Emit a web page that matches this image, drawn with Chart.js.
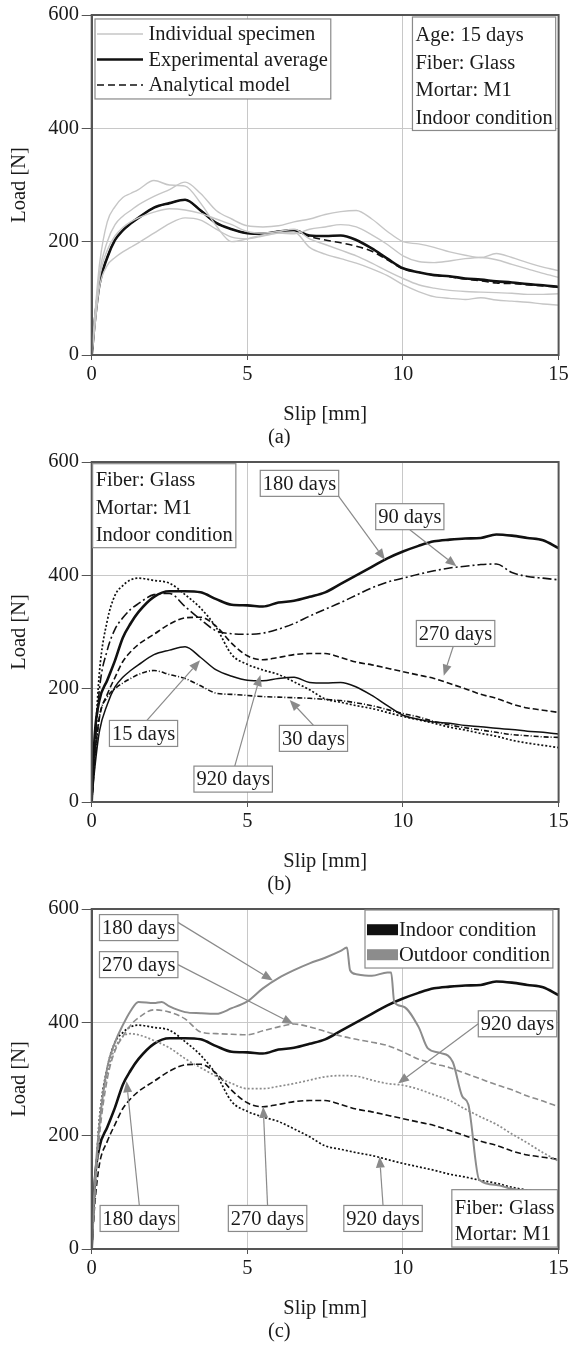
<!DOCTYPE html>
<html>
<head>
<meta charset="utf-8">
<script src="https://cdn.jsdelivr.net/npm/chart.js@4"></script>
<style>
  body { margin: 0; background: #fff; width: 572px; height: 1348px; position: relative; overflow: hidden; }
  canvas { position: absolute; left: 0; }
</style>
</head>
<body>
<canvas id="panelA" width="572" height="452" style="top:0px"></canvas>
<canvas id="panelB" width="572" height="452" style="top:447px"></canvas>
<canvas id="panelC" width="572" height="452" style="top:894px"></canvas>
<script>
// slip values (mm) shared by most curves
const slip = [0, 0.1, 0.25, 0.5, 0.75, 1, 1.25, 1.5, 2, 2.5, 3, 3.5, 4, 4.5, 5, 5.5, 6, 6.5, 7, 7.5,
              8, 8.5, 9, 9.5, 10, 10.5, 11, 11.5, 12, 12.5, 13, 13.5, 14, 14.5, 15];

// (a) 15 days, individual specimens + average + model
const specimenA = [0, 70, 160, 235, 262, 278, 285, 292, 308, 300, 298, 268, 228, 200, 205, 212, 215, 214, 222, 226,
                   230, 226, 212, 195, 175, 165, 163, 166, 170, 172, 168, 160, 152, 144, 137];
const specimenB = [0, 65, 145, 200, 230, 245, 255, 265, 280, 292, 305, 285, 255, 240, 228, 226, 228, 235, 240, 248,
                   253, 255, 240, 218, 200, 196, 190, 182, 176, 172, 179, 172, 163, 155, 149];
const specimenC = [0, 55, 135, 185, 210, 225, 235, 242, 252, 258, 256, 250, 240, 230, 218, 215, 218, 222, 205, 195,
                   185, 175, 162, 148, 135, 124, 118, 114, 112, 111, 110, 109, 107, 107, 108];
const specimenD = [0, 50, 120, 158, 172, 182, 190, 198, 215, 232, 242, 238, 222, 208, 205, 210, 215, 217, 190, 178,
                   170, 162, 152, 140, 124, 112, 103, 100, 98, 101, 97, 95, 93, 90, 88];
const avg15 = [0, 60, 125, 172, 203, 220, 232, 242, 260, 268, 274, 255, 233, 222, 215, 214, 218, 220, 211, 210,
               211, 203, 188, 170, 153, 146, 141, 139, 135, 133, 130, 128, 125, 123, 120];
const model15 = [0, 60, 125, 172, 203, 220, 232, 242, 260, 268, 274, 255, 233, 222, 215, 214, 218, 220, 209, 203,
                 198, 192, 183, 168, 152, 146, 141, 138, 134, 131, 127, 126, 124, 122, 120];

// (b) indoor, by age
const in30 = [0, 70, 150, 185, 200, 210, 218, 225, 232, 225, 218, 205, 192, 190, 188, 186, 185, 184, 183, 181,
              179, 175, 170, 163, 156, 150, 142, 136, 131, 127, 123, 119, 117, 115, 114];
const in90 = [0, 90, 200, 268, 305, 325, 340, 350, 366, 368, 345, 322, 302, 297, 296, 298, 305, 315, 328, 340,
              352, 365, 378, 388, 395, 402, 408, 413, 416, 419, 420, 405, 398, 395, 392];
const in180 = [0, 120, 180, 215, 250, 290, 315, 335, 362, 372, 372, 370, 358, 348, 347, 345, 352, 355, 362, 370,
               385, 400, 415, 430, 442, 452, 460, 463, 465, 466, 472, 470, 466, 462, 448];
const in270 = [0, 80, 150, 190, 220, 248, 265, 278, 296, 314, 325, 326, 310, 280, 258, 251, 255, 260, 262, 262,
               255, 247, 242, 236, 230, 224, 218, 209, 200, 190, 183, 173, 166, 162, 158];
const in920 = [0, 100, 230, 320, 365, 382, 392, 395, 391, 386, 366, 342, 308, 260, 243, 233, 225, 212, 198, 182,
               176, 170, 165, 158, 151, 145, 139, 132, 127, 121, 116, 109, 104, 100, 96];

// (c) outdoor
const out180Slip = [0, 0.1, 0.25, 0.5, 0.75, 1, 1.25, 1.5, 2, 2.25, 2.5, 3, 3.5, 4, 4.5, 5, 5.5, 6, 6.5, 7,
                    7.5, 8, 8.2, 8.3, 8.5, 9, 9.5, 9.62, 9.72, 10, 10.5, 10.8, 11.2, 11.6, 11.9, 12.1, 12.45, 13, 13.5, 14, 15];
const out180 = [0, 120, 220, 320, 365, 395, 420, 436, 434, 436, 428, 418, 416, 415, 425, 437, 460, 478, 492, 504,
                514, 526, 532, 492, 485, 482, 488, 488, 436, 428, 392, 354, 346, 330, 270, 255, 122, 113, 106, 103, 92];
const out270 = [0, 90, 200, 300, 350, 375, 395, 408, 422, 418, 406, 383, 380, 379, 378, 385, 392, 397, 392, 384,
                376, 370, 365, 359, 348, 335, 327, 320, 310, 300, 290, 281, 270, 261, 251];
const out920 = [0, 100, 230, 310, 355, 375, 380, 378, 368, 355, 336, 320, 305, 292, 283, 283, 287, 292, 298, 304,
                306, 305, 298, 292, 289, 282, 272, 262, 247, 233, 220, 203, 187, 170, 155];

const slipTicks = [0, 5, 10, 15];
const loadTicks = [0, 200, 400, 600];

const ink = '#1a1a1a';
const black = '#111';
const lightGray = '#c6c6c6';
const midGray = '#8c8c8c';
const boxGray = '#8a8a8a';
const fontFamily = "'Liberation Serif', 'Times New Roman', serif";
const serif = { family: fontFamily, size: 20.5, weight: 'normal' };

Chart.defaults.font.family = fontFamily;
Chart.defaults.font.size = 20.5;
Chart.defaults.color = ink;

function pts(xs, ys) {
    return xs.map((x, i) => ({ x: x, y: ys[i] }));
}

function line(label, xs, ys, color, width, dash) {
    return {
        label: label,
        data: pts(xs, ys),
        borderColor: color,
        borderWidth: width,
        borderDash: dash || [],
        pointRadius: 0,
        tension: 0.3,
        cubicInterpolationMode: 'monotone',
        fill: false
    };
}

function axes() {
    return {
        x: {
            type: 'linear',
            min: slipTicks[0],
            max: slipTicks[slipTicks.length - 1],
            afterBuildTicks: s => { s.ticks = slipTicks.map(v => ({ value: v })); },
            ticks: { padding: 2.7, color: ink, font: serif },
            grid: { color: '#c8c8c8', lineWidth: 1, tickLength: 5, tickColor: '#555' },
            border: { color: '#555', width: 2 },
            title: { display: true, text: 'Slip [mm]', color: ink, font: serif, padding: { top: 0, bottom: 0.5 } },
            afterFit: s => { s.height = 72.75; }
        },
        y: {
            type: 'linear',
            min: loadTicks[0],
            max: loadTicks[loadTicks.length - 1],
            afterBuildTicks: s => { s.ticks = loadTicks.map(v => ({ value: v })); },
            ticks: { padding: 2.7, color: ink, font: serif },
            grid: { color: '#c8c8c8', lineWidth: 1, tickLength: 10, tickColor: '#555' },
            border: { color: '#555', width: 2 },
            title: { display: true, text: 'Load [N]', color: ink, font: serif, padding: { top: 7.7, bottom: 0 } },
            afterFit: s => { s.width = 91.7; }
        }
    };
}

const frame = {
    id: 'frame',
    afterDatasetsDraw(chart) {
        const a = chart.chartArea, ctx = chart.ctx;
        ctx.save();
        ctx.strokeStyle = '#555';
        ctx.lineWidth = 2;
        ctx.strokeRect(a.left, a.top, a.right - a.left, a.bottom - a.top);
        ctx.restore();
    }
};

function arrow(ctx, x0, y0, x1, y1) {
    const a = Math.atan2(y1 - y0, x1 - x0);
    const L = 11, W = 4.5;
    const bx = x1 - L * Math.cos(a), by = y1 - L * Math.sin(a);
    ctx.setLineDash([]);
    ctx.strokeStyle = boxGray;
    ctx.lineWidth = 1.2;
    ctx.beginPath();
    ctx.moveTo(x0, y0);
    ctx.lineTo(bx, by);
    ctx.stroke();
    ctx.fillStyle = boxGray;
    ctx.beginPath();
    ctx.moveTo(x1, y1);
    ctx.lineTo(bx + W * Math.sin(a), by - W * Math.cos(a));
    ctx.lineTo(bx - W * Math.sin(a), by + W * Math.cos(a));
    ctx.closePath();
    ctx.fill();
}

function drawKey(ctx, k, x, y) {
    ctx.save();
    if (k.fill) {
        ctx.fillStyle = k.fill;
        ctx.fillRect(x + 2, y - 5.5, 31, 11);
    } else {
        ctx.strokeStyle = k.color;
        ctx.lineWidth = k.width;
        ctx.setLineDash(k.dash || []);
        ctx.beginPath();
        ctx.moveTo(x + 2, y);
        ctx.lineTo(x + 48, y);
        ctx.stroke();
    }
    ctx.restore();
}

// text boxes, legends and arrows placed in data coordinates
function notes(items) {
    return {
        id: 'notes',
        afterDatasetsDraw(chart) {
            const ctx = chart.ctx, sx = chart.scales.x, sy = chart.scales.y;
            ctx.save();
            ctx.font = '20.5px ' + fontFamily;
            items.forEach(n => {
                const keyW = n.keyW || 0;
                const pad = n.pad || 6;
                const textW = Math.max(...n.lines.map(t => ctx.measureText(t).width));
                const w = keyW + textW + pad;
                const first = n.first || 13;
                const gap = n.gap || 27.5;
                const h = n.h || (first + (n.lines.length - 1) * gap + 13);
                let x = sx.getPixelForValue(n.at[0]);
                let y = sy.getPixelForValue(n.at[1]);
                if (n.center) { x -= w / 2; y -= h / 2; }
                if (n.tip) {
                    arrow(ctx, x + w * n.tail[0], y + h * n.tail[1],
                          sx.getPixelForValue(n.tip[0]), sy.getPixelForValue(n.tip[1]));
                }
                ctx.setLineDash([]);
                ctx.fillStyle = '#fff';
                ctx.fillRect(x, y, w, h);
                ctx.strokeStyle = boxGray;
                ctx.lineWidth = 1.2;
                ctx.strokeRect(x, y, w, h);
                ctx.textBaseline = 'middle';
                ctx.textAlign = 'left';
                n.lines.forEach((t, i) => {
                    const ty = y + first + i * gap;
                    if (n.keys) drawKey(ctx, n.keys[i], x, ty);
                    ctx.fillStyle = ink;
                    ctx.fillText(t, x + keyW + pad / 2, ty + 1);
                });
            });
            ctx.restore();
        }
    };
}

function panel(id, caption, datasets, items) {
    new Chart(document.getElementById(id), {
        type: 'line',
        data: { datasets: datasets },
        options: {
            responsive: false,
            animation: false,
            layout: { padding: { top: 13, right: 13.4, bottom: 0, left: 0 } },
            plugins: {
                legend: { display: false },
                tooltip: { enabled: false },
                title: {
                    display: true,
                    text: caption,
                    position: 'bottom',
                    color: ink,
                    font: { family: fontFamily, size: 20.5, weight: 'normal', lineHeight: 1 },
                    padding: { top: 0, bottom: 3.75 }
                }
            },
            scales: axes()
        },
        plugins: [frame, notes(items)]
    });
}

// (a)
panel('panelA', '(a)', [
    line('Individual specimen', slip, specimenA, lightGray, 1.4),
    line('Individual specimen', slip, specimenB, lightGray, 1.4),
    line('Individual specimen', slip, specimenC, lightGray, 1.4),
    line('Individual specimen', slip, specimenD, lightGray, 1.4),
    line('Analytical model', slip, model15, black, 1.6, [7, 4]),
    line('Experimental average', slip, avg15, black, 2.6)
], [
    { lines: ['Individual specimen', 'Experimental average', 'Analytical model'], at: [0.106, 593],
      keyW: 50.5, first: 15, gap: 25.5, h: 80,
      keys: [{ color: lightGray, width: 1.4 }, { color: black, width: 2.4 }, { color: black, width: 1.6, dash: [7, 4] }] },
    { lines: ['Age: 15 days', 'Fiber: Glass', 'Mortar: M1', 'Indoor condition'], at: [10.305, 596.5], first: 18 }
]);

// (b)
panel('panelB', '(b)', [
    line('15 days', slip, avg15, black, 1.5),
    line('30 days', slip, in30, black, 1.6, [5, 2, 1, 2]),
    line('90 days', slip, in90, black, 1.6, [9, 3, 2, 3]),
    line('270 days', slip, in270, black, 1.6, [6, 3]),
    line('920 days', slip, in920, black, 1.7, [2, 2]),
    line('180 days', slip, in180, black, 2.6)
], [
    { lines: ['Fiber: Glass', 'Mortar: M1', 'Indoor condition'], at: [0.03, 597], first: 16 },
    { lines: ['180 days'], at: [6.675, 562.3], center: true, pad: 5, h: 26, tip: [9.42, 427.5], tail: [1, 1] },
    { lines: ['90 days'], at: [10.22, 503.5], center: true, pad: 5, h: 26, tip: [11.72, 416], tail: [0.5, 1] },
    { lines: ['270 days'], at: [11.69, 297.4], center: true, pad: 5, h: 26, tip: [11.31, 223], tail: [0.47, 1] },
    { lines: ['15 days'], at: [1.665, 121], center: true, pad: 5, h: 26, tip: [3.48, 250], tail: [0.55, 0] },
    { lines: ['30 days'], at: [7.125, 112.3], center: true, pad: 5, h: 26, tip: [6.36, 180], tail: [0.5, 0] },
    { lines: ['920 days'], at: [4.545, 40.4], center: true, pad: 5, h: 26, tip: [5.42, 224], tail: [0.52, 0] }
]);

// (c)
panel('panelC', '(c)', [
    line('Outdoor 180 days', out180Slip, out180, midGray, 2),
    line('Outdoor 270 days', slip, out270, midGray, 1.6, [6, 3]),
    line('Outdoor 920 days', slip, out920, midGray, 1.7, [2, 2]),
    line('Indoor 270 days', slip, in270, black, 1.6, [6, 3]),
    line('Indoor 920 days', slip, in920, black, 1.7, [2, 2]),
    line('Indoor 180 days', slip, in180, black, 2.6)
], [
    { lines: ['Indoor condition', 'Outdoor condition'], at: [8.78, 598.2], keyW: 31, first: 19.7, gap: 25, h: 58,
      keys: [{ fill: black }, { fill: midGray }] },
    { lines: ['180 days'], at: [1.51, 567.2], center: true, pad: 5, h: 26, tip: [5.82, 474], tail: [1, 0.3] },
    { lines: ['270 days'], at: [1.51, 501.8], center: true, pad: 5, h: 26, tip: [6.48, 397], tail: [1, 0.5] },
    { lines: ['920 days'], at: [13.68, 397.4], center: true, pad: 5, h: 26, tip: [9.84, 292], tail: [0, 0.5] },
    { lines: ['180 days'], at: [1.53, 53.9], center: true, pad: 5, h: 26, tip: [1.12, 296], tail: [0.5, 0] },
    { lines: ['270 days'], at: [5.65, 53.9], center: true, pad: 5, h: 26, tip: [5.51, 251], tail: [0.5, 0] },
    { lines: ['920 days'], at: [9.36, 53.9], center: true, pad: 5, h: 26, tip: [9.25, 163], tail: [0.5, 0] },
    { lines: ['Fiber: Glass', 'Mortar: M1'], at: [11.57, 104.7], first: 17.7, gap: 26.7 }
]);
</script>
</body>
</html>
